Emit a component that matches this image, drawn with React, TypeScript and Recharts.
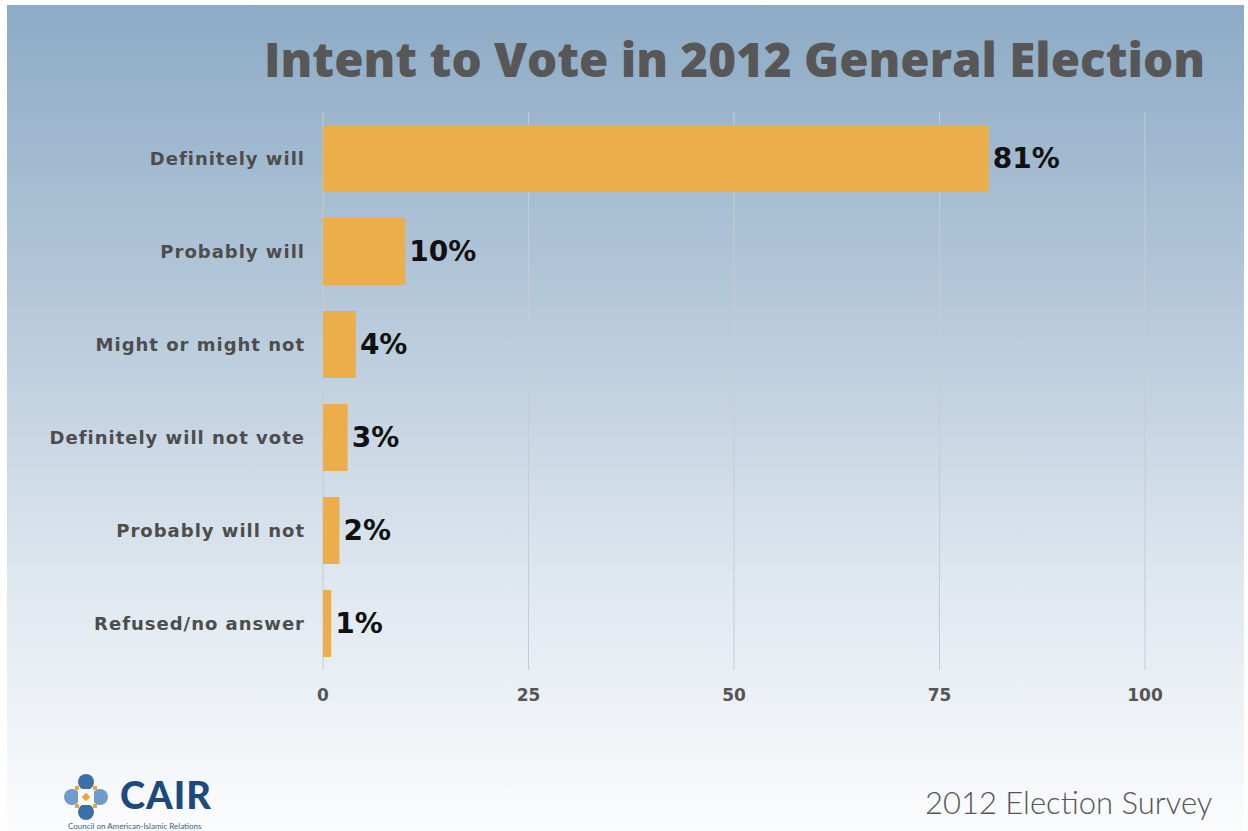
import React from 'react'
import { Bar, BarChart, CartesianGrid, LabelList, XAxis, YAxis } from 'recharts';

const answers = [
    'Definitely will',
    'Probably will',
    'Might or might not',
    'Definitely will not vote',
    'Probably will not',
    'Refused/no answer',
];
const shares = [81, 10, 4, 3, 2, 1];
const xTicks = [0, 25, 50, 75, 100];

const data = answers.map((answer, i) => ({ answer, share: shares[i] }));

const FONT = 'Lato, "Open Sans", sans-serif';
const BOLD = '"DejaVu Sans", "Open Sans", sans-serif';

const CairLogo = () => (
    <div style={{ position: 'absolute', left: 64, top: 770, width: 180 }}>
        <svg width={44} height={50} style={{ position: 'absolute', left: 0, top: 2 }}>
            <circle cx={22} cy={10} r={8} fill='#3b6fa8' />
            <circle cx={22} cy={40} r={8} fill='#3b6fa8' />
            <circle cx={8} cy={25} r={8} fill='#6f9ccc' />
            <circle cx={36} cy={25} r={8} fill='#6f9ccc' />
            <rect x={14} y={17} width={16} height={16} fill='#f7f9fb' />
            <rect x={19} y={22} width={6} height={6} fill='#f0a236' transform='rotate(45 22 25)' />
            <rect x={11} y={14} width={4} height={4} fill='#f0a236' />
            <rect x={29} y={14} width={4} height={4} fill='#f0a236' />
            <rect x={11} y={32} width={4} height={4} fill='#f0a236' />
            <rect x={29} y={32} width={4} height={4} fill='#f0a236' />
        </svg>
        <div style={{ position: 'absolute', left: 56, top: 4, fontFamily: FONT, fontWeight: 900, fontSize: 38, color: '#1d4a7c', lineHeight: '40px', letterSpacing: 1 }}>
            CAIR
        </div>
        <div style={{ position: 'absolute', left: 4, top: 51, fontFamily: FONT, fontSize: 8, color: '#3b5f86', whiteSpace: 'nowrap' }}>
            Council on American-Islamic Relations
        </div>
    </div>
);

const App = () => {
    return (
        <div style={{ position: 'absolute', left: 0, top: 0, width: 1248, height: 831, background: '#ffffff', overflow: 'hidden' }}>
            <div style={{ position: 'absolute', left: 7, top: 5, width: 1237, height: 826, background: 'linear-gradient(to bottom, #8dabc6 0%, #b4c7d9 35%, #dfe7ef 70%, #fbfcfd 100%)' }} />
            <svg width={1248} height={100} style={{ position: 'absolute', left: 0, top: 0 }}>
                <text x={264} y={77} textLength={941} lengthAdjust='spacingAndGlyphs' fontFamily='"Open Sans", Lato, sans-serif' fontWeight={800} fontSize={47} fill='#575757'>
                    Intent to Vote in 2012 General Election
                </text>
            </svg>
            <div style={{ position: 'absolute', left: 0, top: 0 }}>
                <BarChart
                    width={1248}
                    height={831}
                    data={data}
                    layout='vertical'
                    margin={{ top: 112, right: 103, bottom: 131, left: 0 }}
                    barCategoryGap={13}
                >
                    <CartesianGrid horizontal={false} stroke='#c4ccd5' />
                    <XAxis
                        type='number'
                        domain={[0, 100]}
                        ticks={xTicks}
                        height={30}
                        axisLine={false}
                        tickLine={false}
                        tickSize={0}
                        tickMargin={19}
                        tick={{ fill: '#555555', fontSize: 17, fontWeight: 700, fontFamily: BOLD }}
                    />
                    <YAxis
                        type='category'
                        dataKey='answer'
                        width={323}
                        axisLine={false}
                        tickLine={false}
                        tickSize={0}
                        tickMargin={18}
                        tick={{ fill: '#4d4d4d', fontSize: 18, fontWeight: 700, fontFamily: BOLD, letterSpacing: 1 }}
                    />
                    <Bar dataKey='share' fill='#ecae4b' isAnimationActive={false}>
                        <LabelList
                            dataKey='share'
                            position='right'
                            offset={4}
                            formatter={(v: any) => `${v}%`}
                            style={{ fill: '#111111', fontSize: 28, fontWeight: 700, fontFamily: BOLD }}
                        />
                    </Bar>
                </BarChart>
            </div>
            <CairLogo />
            <div style={{ position: 'absolute', left: 925, top: 783, fontFamily: FONT, fontWeight: 300, fontSize: 31, color: '#555555', whiteSpace: 'nowrap' }}>
                2012 Election Survey
            </div>
        </div>
    )
}

export default App;
